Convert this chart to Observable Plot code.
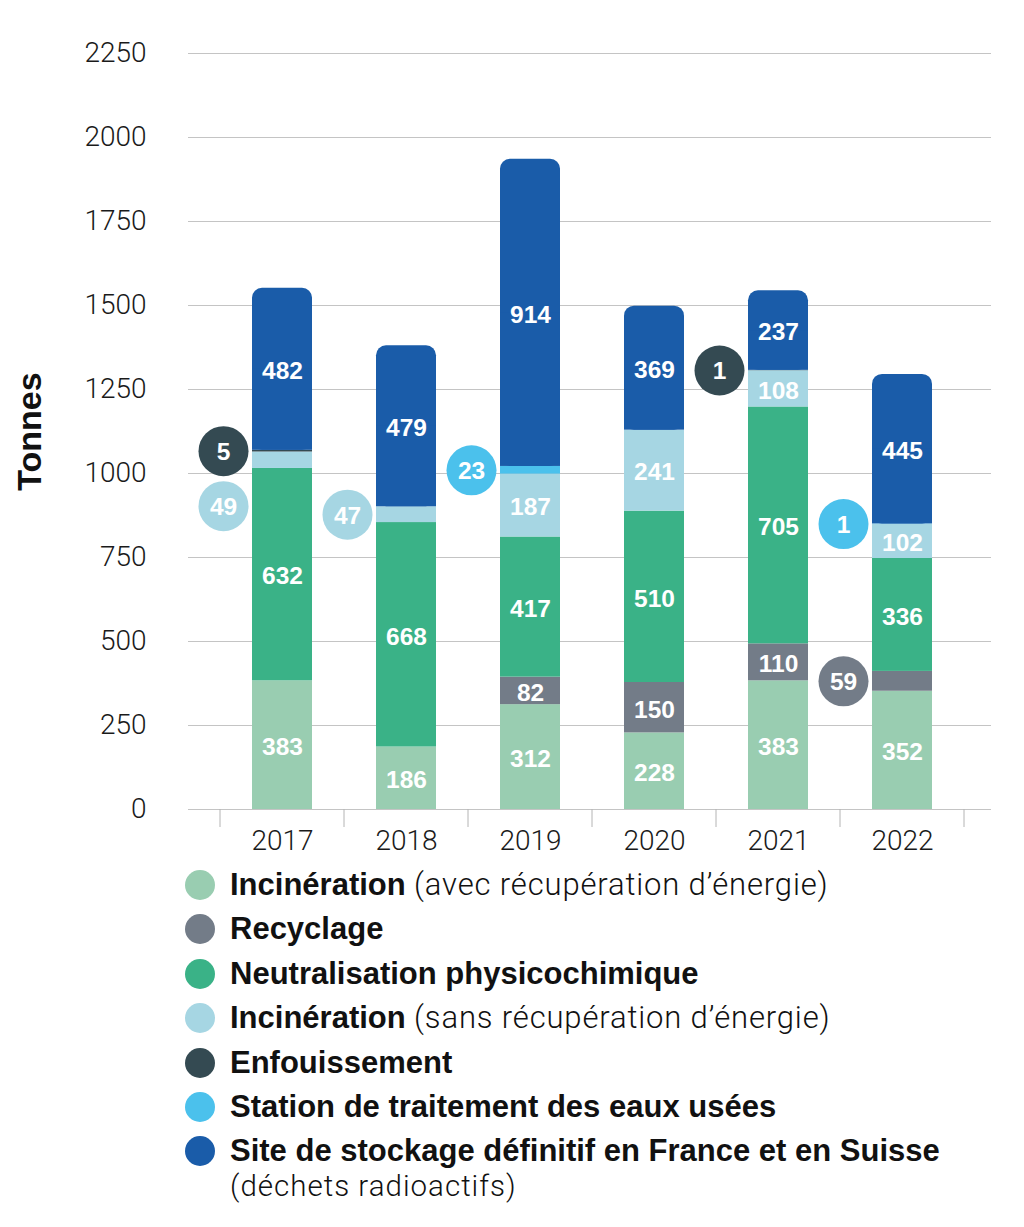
<!DOCTYPE html>
<html>
<head>
<meta charset="utf-8">
<script src="https://cdn.jsdelivr.net/npm/d3@7"></script>
<script src="https://cdn.jsdelivr.net/npm/@observablehq/plot@0.6"></script>
<style>
  body { margin: 0; background: #fff; font-family: "Liberation Sans", Arial, sans-serif; }
  #chart svg { display: block; font-family: "Liberation Sans", Arial, sans-serif; }
  #chart svg [aria-label="y-axis tick label"] text,
  #chart svg [aria-label="x-axis tick label"] text { font-family: Roboto, "Liberation Sans", sans-serif; font-weight: 300; font-size: 28px; fill: #1a1a1a; }
  #legend { margin-top: 5px; padding-left: 185px; }
  .item { display: flex; align-items: flex-start; margin-bottom: 14.4px; }
  .sw { width: 30px; height: 30px; border-radius: 50%; flex: none; margin-right: 15px; }
  .txt { font-size: 31px; line-height: 30px; color: #111; white-space: nowrap; }
  .txt b { font-family: "Liberation Sans", Arial, sans-serif; font-weight: 700; }
  .txt span { font-family: Roboto, "Liberation Sans", sans-serif; font-weight: 300; letter-spacing: 0.85px; }
  .txt .second { display: block; font-size: 29.5px; line-height: 30px; margin-top: 5px; letter-spacing: 1px; }
</style>
</head>
<body>
<div id="chart"></div>
<div id="legend"></div>
<script>
const years = ["2017", "2018", "2019", "2020", "2021", "2022"];
const categories = [
  "Incinération (avec récupération d’énergie)",
  "Recyclage",
  "Neutralisation physicochimique",
  "Incinération (sans récupération d’énergie)",
  "Enfouissement",
  "Station de traitement des eaux usées",
  "Site de stockage définitif en France et en Suisse (déchets radioactifs)"
];
const colors = ["#99cdb1", "#737c88", "#3ab287", "#a6d6e3", "#344a52", "#4bc1ec", "#1a5ca9"];

const incinerationAvec = [383, 186, 312, 228, 383, 352];
const recyclage        = [0, 0, 82, 150, 110, 59];
const neutralisation   = [632, 668, 417, 510, 705, 336];
const incinerationSans = [49, 47, 187, 241, 108, 102];
const enfouissement    = [5, 0, 0, 0, 1, 0];
const station          = [0, 0, 23, 0, 0, 1];
const stockage         = [482, 479, 914, 369, 237, 445];

const yTicks = [0, 250, 500, 750, 1000, 1250, 1500, 1750, 2000, 2250];

const legendBold = ["Incinération", "Recyclage", "Neutralisation physicochimique", "Incinération", "Enfouissement", "Station de traitement des eaux usées", "Site de stockage définitif en France et en Suisse"];
const legendNormal = [" (avec récupération d’énergie)", "", "", " (sans récupération d’énergie)", "", "", "(déchets radioactifs)"];

const series = [incinerationAvec, recyclage, neutralisation, incinerationSans, enfouissement, station, stockage];

// build stacked table
const rows = [];
years.forEach((yr, i) => {
  let acc = 0;
  series.forEach((s, k) => {
    const v = s[i];
    if (v > 0) rows.push({year: yr, cat: categories[k], k, value: v, y1: acc, y2: acc + v, mid: acc + v / 2});
    acc += v;
  });
});

const topK = series.length - 1;
const topRows = rows.filter(d => d.k === topK);
const otherRows = rows.filter(d => d.k !== topK);
const inside = rows.filter(d => d.value >= 70);
const small = rows.filter(d => d.value < 70);

// simple collision avoidance for bubbles (in data units)
const H = 865, mTop = 53, mBottom = 56;
const pxPerUnit = (H - mTop - mBottom) / 2250;
const minGap = 55 / pxPerUnit;
years.forEach(yr => {
  const g = small.filter(d => d.year === yr).sort((a, b) => b.mid - a.mid);
  g.forEach((d, j) => {
    d.cy = d.mid;
    if (j > 0 && g[j - 1].cy - d.cy < minGap) d.cy = g[j - 1].cy - minGap;
  });
});

const plot = Plot.plot({
  width: 1024,
  height: H,
  marginTop: mTop,
  marginBottom: mBottom,
  marginLeft: 188,
  marginRight: 33,
  x: {domain: years, paddingInner: 0.52, paddingOuter: 0.26, insetLeft: 32, insetRight: 27, label: null},
  y: {domain: [0, 2250], label: null},
  color: {domain: categories, range: colors},
  marks: [
    Plot.ruleY(yTicks, {stroke: "#c4c4c4", strokeWidth: 1}),
    Plot.axisY({ticks: yTicks, tickFormat: d => String(d), tickSize: 0, tickPadding: 42, label: null, fontSize: 28}),
    Plot.axisX({tickSize: 0, tickPadding: 21, label: null, fontSize: 28}),
    Plot.barY(otherRows, {x: "year", y1: "y1", y2: "y2", fill: "cat"}),
    Plot.barY(topRows, {x: "year", y1: "y1", y2: "y2", fill: "cat", rx: 10}),
    Plot.barY(topRows, {x: "year", y1: "y1", y2: d => (d.y1 + d.y2) / 2, fill: "cat"}),
    Plot.text(inside, {x: "year", y: "mid", text: d => String(d.value), fill: "white", fontSize: 24.5, fontWeight: "bold", dy: 2}),
    Plot.dot(small, {x: "year", y: "cy", r: 25, fill: "cat", dx: -59}),
    Plot.text(small, {x: "year", y: "cy", text: d => String(d.value), fill: "white", fontSize: 24.5, fontWeight: "bold", dx: -59, dy: 1}),
    Plot.text(["Tonnes"], {frameAnchor: "left", textAnchor: "middle", rotate: -90, dx: -158, fontSize: 34, fontWeight: "bold", fill: "#111"})
  ]
});

// band-boundary ticks on the x axis
const xs = plot.scale("x");
const ys = plot.scale("y");
const off = (xs.step - xs.bandwidth) / 2;
const y0 = ys.apply(0);
const bounds = years.map(v => xs.apply(v) - off).concat([xs.apply(years[years.length - 1]) + xs.bandwidth + off]);
d3.select(plot).append("g")
  .selectAll("line").data(bounds).join("line")
  .attr("x1", d => d).attr("x2", d => d)
  .attr("y1", y0).attr("y2", y0 + 18)
  .attr("stroke", "#b4b4b4");

document.getElementById("chart").append(plot);

// legend
const legend = document.getElementById("legend");
categories.forEach((c, k) => {
  const item = document.createElement("div");
  item.className = "item";
  const sw = document.createElement("div");
  sw.className = "sw";
  sw.style.background = colors[k];
  const txt = document.createElement("div");
  txt.className = "txt";
  const b = document.createElement("b");
  b.textContent = legendBold[k];
  txt.append(b);
  if (legendNormal[k]) {
    const s = document.createElement("span");
    if (k === topK) s.className = "second";
    s.textContent = legendNormal[k];
    txt.append(s);
  }
  item.append(sw, txt);
  legend.append(item);
});
</script>
</body>
</html>
